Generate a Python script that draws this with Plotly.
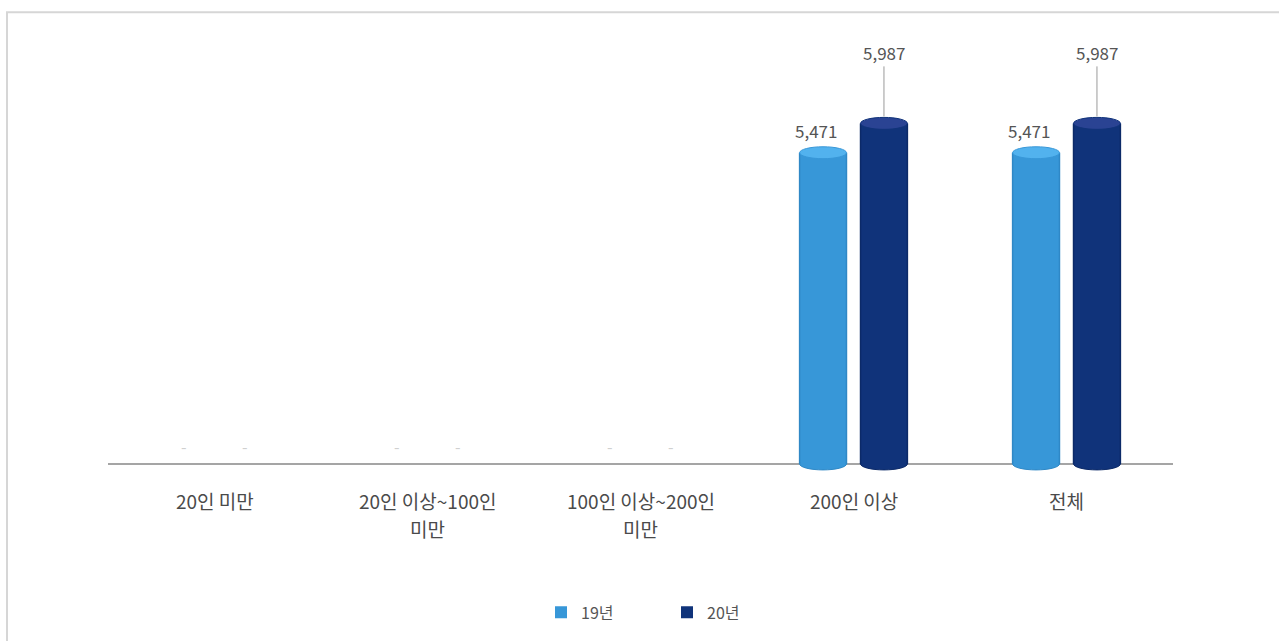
import plotly.graph_objects as go

# Headcount by company size, 2019 vs 2020
categories = ["20인 미만", "20인 이상~100인<br>미만", "100인 이상~200인<br>미만", "200인 이상", "전체"]
series_names = ["19년", "20년"]
values_19 = [0, 0, 0, 5471, 5471]
values_20 = [0, 0, 0, 5987, 5987]

body_colors = ["#3797d8", "#10337a"]
edge_colors = ["#2f88c6", "#0c2a68"]
cap_colors = ["#52b2ee", "#2a4393"]

W, H = 1279, 641
ML, MR, MT, MB = 108, 106, 43, 158
Y_MIN, Y_MAX = -300, 7400
PLOT_H = H - MT - MB
UNIT_PX = PLOT_H / (Y_MAX - Y_MIN)

BAR_W = 0.22
OFFSET = 0.143
CAP_HALF = 6 / UNIT_PX  # ellipse half-height, in data units

fig = go.Figure()
shapes = []
annotations = []

for s, (name, vals) in enumerate(zip(series_names, [values_19, values_20])):
    dx = -OFFSET if s == 0 else OFFSET
    xs = [i + dx for i in range(len(categories))]
    fig.add_trace(go.Bar(
        x=xs, y=vals, width=BAR_W, name=name,
        marker=dict(color=body_colors[s], line=dict(width=0)),
        hoverinfo="skip",
    ))
    for x, v in zip(xs, vals):
        if v > 0:
            # bottom rim of the cylinder
            shapes.append(dict(type="circle", xref="x", yref="y",
                               x0=x - BAR_W / 2, x1=x + BAR_W / 2,
                               y0=-CAP_HALF, y1=CAP_HALF,
                               fillcolor=body_colors[s],
                               line=dict(width=1, color=edge_colors[s]),
                               layer="above"))
            # repaint body over the upper half of the rim
            shapes.append(dict(type="rect", xref="x", yref="y",
                               x0=x - BAR_W / 2 + 0.003, x1=x + BAR_W / 2 - 0.003,
                               y0=0, y1=CAP_HALF * 1.5,
                               fillcolor=body_colors[s], line=dict(width=0),
                               layer="above"))
            # side edges for a rounded look
            for sx in (x - BAR_W / 2, x + BAR_W / 2):
                shapes.append(dict(type="line", xref="x", yref="y",
                                   x0=sx, x1=sx, y0=0, y1=v,
                                   line=dict(width=1.5, color=edge_colors[s]),
                                   layer="above"))
            # top cap
            shapes.append(dict(type="circle", xref="x", yref="y",
                               x0=x - BAR_W / 2, x1=x + BAR_W / 2,
                               y0=v - CAP_HALF, y1=v + CAP_HALF,
                               fillcolor=cap_colors[s],
                               line=dict(width=1, color=body_colors[s]),
                               layer="above"))
            label = f"{v:,}"
            if s == 1:
                annotations.append(dict(x=x, y=v, xref="x", yref="y", text=label,
                                        showarrow=True, arrowhead=0, arrowwidth=1,
                                        arrowcolor="#9a9a9a", ax=0, ay=-71,
                                        standoff=7,
                                        font=dict(size=17, color="#555555")))
            else:
                annotations.append(dict(x=x, y=v, xref="x", yref="y", text=label,
                                        showarrow=False, xshift=-7, yshift=22,
                                        font=dict(size=17, color="#555555")))
        else:
            annotations.append(dict(x=x, y=v, xref="x", yref="y", text="-",
                                    showarrow=False, yshift=18,
                                    font=dict(size=16, color="#d0d0d0")))

# category labels below the baseline, one text per line
LINE_STEP = 28
for i, cat in enumerate(categories):
    for k, line in enumerate(cat.split("<br>")):
        annotations.append(dict(x=i, y=Y_MIN, xref="x", yref="y", text=line,
                                showarrow=False, yanchor="middle",
                                yshift=-(19 + k * LINE_STEP),
                                font=dict(size=19, color="#4a4a4a")))

# outer frame of the chart panel
def px_to_paper_x(px):
    return (px - ML) / (W - ML - MR)

def px_to_paper_y(py):
    return (H - MB - py) / PLOT_H

shapes.append(dict(type="rect", xref="paper", yref="paper",
                   x0=px_to_paper_x(7), x1=px_to_paper_x(1300),
                   y0=px_to_paper_y(700), y1=px_to_paper_y(12),
                   line=dict(color="#d6d6d6", width=2), layer="below"))

fig.update_layout(
    width=W, height=H,
    margin=dict(l=ML, r=MR, t=MT, b=MB),
    paper_bgcolor="white", plot_bgcolor="white",
    barmode="overlay",
    showlegend=True,
    legend=dict(orientation="h", x=px_to_paper_x(541), xanchor="left",
                y=px_to_paper_y(615), yanchor="middle",
                font=dict(size=16, color="#555555"), entrywidth=81,
                itemclick=False, itemdoubleclick=False),
    font=dict(family="Noto Sans CJK KR, sans-serif"),
    shapes=shapes,
    annotations=annotations,
)
fig.update_xaxes(range=[-0.5, 4.5], showticklabels=False,
                 showgrid=False, zeroline=False, showline=False, ticks="")
fig.update_yaxes(range=[Y_MIN, Y_MAX], showgrid=False, showticklabels=False,
                 zeroline=True, zerolinecolor="#a5a5a5", zerolinewidth=2,
                 showline=False)

fig.write_html("out.html")
